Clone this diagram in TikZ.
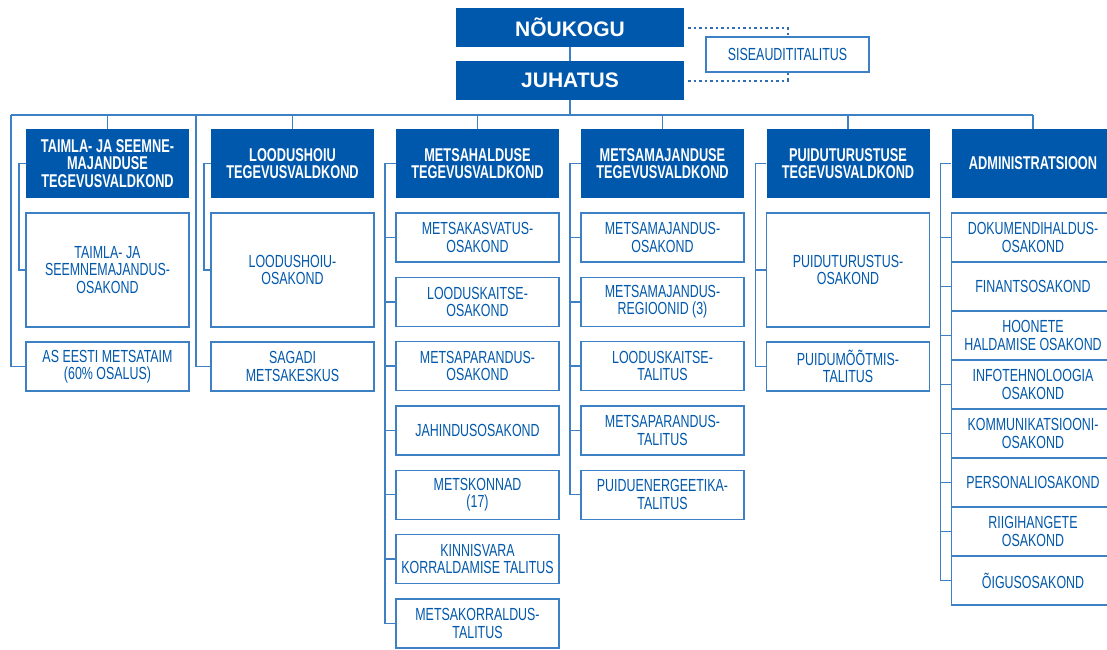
\documentclass[tikz,border=0pt]{standalone}
\usepackage{fontspec}
\usepackage{xcolor}
\usepackage{tikz}
\setmainfont{Liberation Sans}[FakeStretch=0.71]
\newfontfamily\areafont{Liberation Sans}[FakeStretch=0.69]
\newfontfamily\boardfont{Liberation Sans}
\definecolor{rmkblue}{RGB}{0,88,172}
\definecolor{linkblue}{RGB}{62,128,196}
\definecolor{dotblue}{RGB}{50,110,180}

\begin{document}
\begin{tikzpicture}[x=1pt, y=-1pt, node distance=64.3pt,
  board/.style={rectangle, fill=rmkblue, text=white, minimum width=228pt, minimum height=39pt, inner sep=0pt, font=\boardfont\bfseries\fontsize{21}{22}\selectfont},
  area/.style={rectangle, fill=rmkblue, text=white, minimum width=163pt, minimum height=69pt, inner sep=0pt, align=center, font=\areafont\bfseries\fontsize{18.5}{17.5}\selectfont},
  dept/.style={rectangle, draw=linkblue, line width=1.4pt, fill=white, text=rmkblue, minimum width=163pt, minimum height=49pt, inner sep=0pt, align=center, font=\fontsize{17.5}{17.5}\selectfont},
  bigdept/.style={dept, minimum height=114pt},
  link/.style={draw=linkblue, line width=1.4pt},
  dots/.style={draw=dotblue, line width=2pt, dash pattern=on 2.5pt off 3pt, shorten <=4pt}]
\useasboundingbox (0,0) rectangle (1107,649);

\node[board] (noukogu) at (570,27.5) {NÕUKOGU};
\node[board] (juhatus) at (570,80.5) {JUHATUS};
\node[dept, minimum height=35pt] (siseaudit) at (787.5,54.5) {SISEAUDITITALITUS};

\coordinate (busL) at (11,115);
\coordinate (busR) at (1033,115);
\coordinate (busS) at (196,115);

\node[area] (taimla) at (107.5,163.5) {TAIMLA- JA SEEMNE-\\MAJANDUSE\\TEGEVUSVALDKOND};
\node[area] (loodus) at (292.5,163.5) {LOODUSHOIU\\TEGEVUSVALDKOND};
\node[area] (metsahaldus) at (477.5,163.5) {METSAHALDUSE\\TEGEVUSVALDKOND};
\node[area] (metsamaj) at (662.5,163.5) {METSAMAJANDUSE\\TEGEVUSVALDKOND};
\node[area] (puidu) at (848,163.5) {PUIDUTURUSTUSE\\TEGEVUSVALDKOND};
\node[area] (admin) at (1033,163.5) {ADMINISTRATSIOON};

\node[bigdept] (taimlaosk) at (107.5,270) {TAIMLA- JA\\SEEMNEMAJANDUS-\\OSAKOND};
\node[dept] (metsataim) at (107.5,366.5) {AS EESTI METSATAIM\\(60\% OSALUS)};

\node[bigdept] (loodusosk) at (292.5,270) {LOODUSHOIU-\\OSAKOND};
\node[dept] (sagadi) at (292.5,366.5) {SAGADI\\METSAKESKUS};

\node[dept] (kasvatus) at (477.5,237.5) {METSAKASVATUS-\\OSAKOND};
\node[dept, below of=kasvatus] (kaitseosk) {LOODUSKAITSE-\\OSAKOND};
\node[dept, below of=kaitseosk] (paranduosk) {METSAPARANDUS-\\OSAKOND};
\node[dept, below of=paranduosk] (jahindus) {JAHINDUSOSAKOND};
\node[dept, below of=jahindus] (metskonnad) {METSKONNAD\\(17)};
\node[dept, below of=metskonnad] (kinnisvara) {KINNISVARA\\KORRALDAMISE TALITUS};
\node[dept, below of=kinnisvara] (korraldus) {METSAKORRALDUS-\\TALITUS};

\node[dept] (majandusosk) at (662.5,237.5) {METSAMAJANDUS-\\OSAKOND};
\node[dept, below of=majandusosk] (regioonid) {METSAMAJANDUS-\\REGIOONID (3)};
\node[dept, below of=regioonid] (kaitsetal) {LOODUSKAITSE-\\TALITUS};
\node[dept, below of=kaitsetal] (parandutal) {METSAPARANDUS-\\TALITUS};
\node[dept, below of=parandutal] (energeetika) {PUIDUENERGEETIKA-\\TALITUS};

\node[bigdept] (turustus) at (848,270) {PUIDUTURUSTUS-\\OSAKOND};
\node[dept] (mootmis) at (848,366.5) {PUIDUMÕÕTMIS-\\TALITUS};

\node[dept] (dokument) at (1033,237.5) {DOKUMENDIHALDUS-\\OSAKOND};
\node[dept, node distance=49pt, below of=dokument] (finants) {FINANTSOSAKOND};
\node[dept, node distance=49pt, below of=finants] (hoonete) {HOONETE\\HALDAMISE OSAKOND};
\node[dept, node distance=49pt, below of=hoonete] (infotehno) {INFOTEHNOLOOGIA\\OSAKOND};
\node[dept, node distance=49pt, below of=infotehno] (kommunik) {KOMMUNIKATSIOONI-\\OSAKOND};
\node[dept, node distance=49pt, below of=kommunik] (personal) {PERSONALIOSAKOND};
\node[dept, node distance=49pt, below of=personal] (hanked) {RIIGIHANGETE\\OSAKOND};
\node[dept, node distance=49pt, below of=hanked] (oigus) {ÕIGUSOSAKOND};

\draw[link] (noukogu) -- (juhatus);
\draw[link] (juhatus) -- (juhatus |- busL);
\draw[link] (busL) -- (busR);
\foreach \n in {taimla, loodus, metsahaldus, metsamaj, puidu, admin}
  \draw[link] (\n) -- (\n |- busL);
\draw[link] (busL) |- (metsataim);
\draw[link] (busS) |- (sagadi);

\draw[dots] (noukogu) -| (siseaudit);
\draw[dots] (juhatus) -| (siseaudit);

\draw[link] (taimla.west) -- ++(-7,0) |- (taimlaosk);
\draw[link] (loodus.west) -- ++(-7,0) |- (loodusosk);
\draw[link] (metsahaldus.west) -- ++(-11,0) |- (korraldus);
\foreach \n in {kasvatus, kaitseosk, paranduosk, jahindus, metskonnad, kinnisvara}
  \draw[link] (\n.west) -- ++(-11,0);
\draw[link] (metsamaj.west) -- ++(-11,0) |- (energeetika);
\foreach \n in {majandusosk, regioonid, kaitsetal, parandutal}
  \draw[link] (\n.west) -- ++(-11,0);
\draw[link] (puidu.west) -- ++(-11,0) |- (mootmis);
\draw[link] (turustus.west) -- ++(-11,0);
\draw[link] (admin.west) -- ++(-11,0) |- (oigus);
\foreach \n in {dokument, finants, hoonete, infotehno, kommunik, personal, hanked}
  \draw[link] (\n.west) -- ++(-11,0);
\end{tikzpicture}
\end{document}
